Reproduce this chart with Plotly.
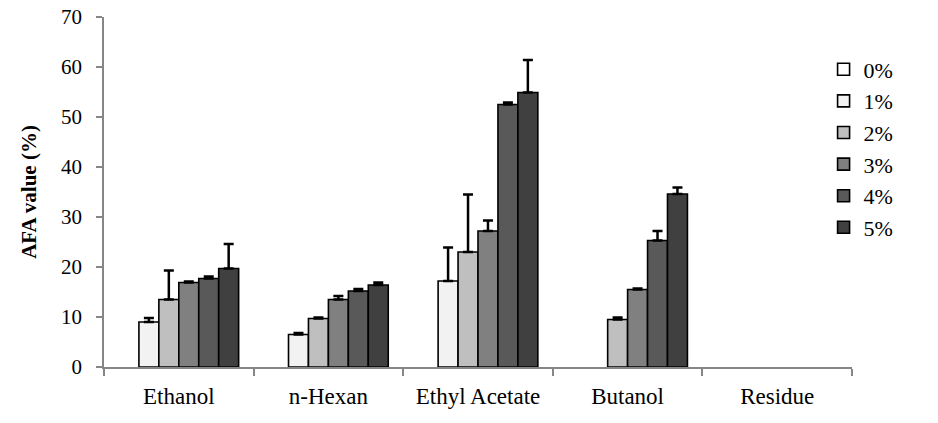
import plotly.graph_objects as go

categories = ["Ethanol", "n-Hexan", "Ethyl Acetate", "Butanol", "Residue"]
series_names = ["0%", "1%", "2%", "3%", "4%", "5%"]
colors = ["#ffffff", "#f2f2f2", "#bfbfbf", "#808080", "#595959", "#404040"]

v0 = [0, 0, 0, 0, 0]
v1 = [9.0, 6.5, 17.2, 0, 0]
v2 = [13.5, 9.7, 23.0, 9.5, 0]
v3 = [16.9, 13.5, 27.2, 15.5, 0]
v4 = [17.7, 15.2, 52.5, 25.3, 0]
v5 = [19.7, 16.4, 54.9, 34.6, 0]

e0 = [0, 0, 0, 0, 0]
e1 = [0.8, 0.3, 6.7, 0, 0]
e2 = [5.8, 0.2, 11.5, 0.4, 0]
e3 = [0.2, 0.7, 2.1, 0.2, 0]
e4 = [0.4, 0.4, 0.4, 1.9, 0]
e5 = [4.9, 0.5, 6.5, 1.3, 0]

values = [v0, v1, v2, v3, v4, v5]
errors = [e0, e1, e2, e3, e4, e5]

FONT = "Liberation Serif, Times New Roman, serif"

fig = go.Figure()
for i, (name, vals, errs, col) in enumerate(zip(series_names, values, errors, colors)):
    yv = [v if v != 0 else None for v in vals]
    ev = [e if v != 0 else None for v, e in zip(vals, errs)]
    fig.add_trace(go.Bar(
        x=categories, y=yv, name=name, legendgroup=name,
        marker=dict(color=col, line=dict(color="#000000", width=1.6)),
        error_y=dict(type="data", array=ev, arrayminus=[0]*len(ev), symmetric=False,
                     color="#000000", thickness=2.5, width=5),
    ))

fig.update_layout(
    width=938, height=423,
    margin=dict(l=104, r=86, t=17, b=56, autoexpand=False),
    paper_bgcolor="white", plot_bgcolor="white",
    barmode="group", bargap=0.2, bargroupgap=0,
    font=dict(family=FONT, size=20, color="#000000"),
    showlegend=True,
    legend=dict(x=0.962, y=0.91, xanchor="left", yanchor="top",
                font=dict(family=FONT, size=22, color="#000000"), tracegroupgap=0,
                traceorder="grouped", bgcolor="rgba(0,0,0,0)"),
    xaxis=dict(showline=True, linecolor="#868686", linewidth=1.5,
               ticks="outside", ticklen=7, tickcolor="#868686", tickwidth=1.5,
               tickson="boundaries", ticklabelstandoff=8, automargin=False,
               tickfont=dict(family=FONT, size=23), showgrid=False, zeroline=False),
    yaxis=dict(range=[0, 70], dtick=10, showline=True, linecolor="#868686", linewidth=1.5,
               ticks="outside", ticklen=6, tickcolor="#868686", tickwidth=1.5,
               ticklabelstandoff=10, showgrid=False, zeroline=False, automargin=False,
               tickfont=dict(family=FONT, size=21),
               title=dict(text="<b>AFA value (%)</b>", font=dict(family=FONT, size=21), standoff=19)),
)

fig.write_html("out.html", config={"displayModeBar": False},
               post_script="document.body.style.margin='0';")
